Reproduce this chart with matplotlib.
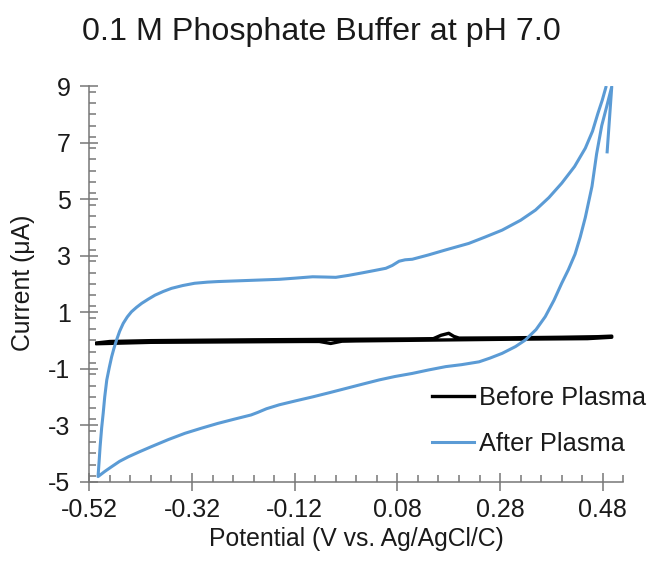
import matplotlib
matplotlib.use("Agg")
import matplotlib.pyplot as plt
from matplotlib.ticker import MultipleLocator

plt.rcParams['font.family'] = ['Liberation Sans', 'DejaVu Sans']
plt.rcParams['axes.unicode_minus'] = False

# After Plasma: one full scan, starting near +0.49 V, down the cathodic branch, back up the anodic one
after_v = [0.4885, 0.4975, 0.488, 0.478, 0.468, 0.459, 0.446, 0.436, 0.426, 0.413,
           0.400, 0.385, 0.368, 0.350, 0.329, 0.310, 0.284, 0.260, 0.239, 0.205,
           0.174, 0.140, 0.109, 0.075, 0.0445, 0.012, -0.020, -0.052, -0.085, -0.118,
           -0.150, -0.175, -0.192, -0.205, -0.238, -0.270, -0.302, -0.334, -0.366, -0.399,
           -0.422, -0.444, -0.461, -0.4765, -0.490, -0.503,
           -0.501, -0.499, -0.496, -0.493, -0.490, -0.486, -0.481, -0.4765, -0.472, -0.467,
           -0.461, -0.454, -0.446, -0.438, -0.428, -0.418, -0.405, -0.392, -0.376, -0.360,
           -0.338, -0.315, -0.290, -0.270, -0.210, -0.150, -0.120, -0.085, -0.060, -0.040,
           -0.015, 0.012, 0.035, 0.0575, 0.070, 0.0833, 0.095, 0.109, 0.140, 0.174,
           0.219, 0.250, 0.284, 0.320, 0.349, 0.375, 0.400, 0.425, 0.446, 0.460,
           0.4705, 0.479, 0.486]
after_i = [6.67, 8.98, 8.3, 7.6, 6.6, 5.45, 4.35, 3.65, 3.05, 2.5,
           2.02, 1.42, 0.84, 0.38, 0.01, -0.22, -0.46, -0.63, -0.76, -0.86,
           -0.93, -1.05, -1.17, -1.28, -1.40, -1.55, -1.70, -1.85, -2.0, -2.14,
           -2.28, -2.42, -2.55, -2.64, -2.79, -2.94, -3.11, -3.29, -3.51, -3.76,
           -3.94, -4.12, -4.28, -4.47, -4.64, -4.82,
           -4.3, -3.76, -3.1, -2.58, -2.0, -1.40, -0.95, -0.58, -0.28, 0.01,
           0.32, 0.60, 0.83, 1.01, 1.17, 1.31, 1.46, 1.60, 1.73, 1.84,
           1.94, 2.02, 2.06, 2.08, 2.12, 2.16, 2.20, 2.25, 2.24, 2.23,
           2.30, 2.39, 2.47, 2.55, 2.65, 2.80, 2.85, 2.87, 3.02, 3.20,
           3.43, 3.65, 3.90, 4.25, 4.61, 5.05, 5.56, 6.15, 6.80, 7.40,
           8.03, 8.50, 8.95]

# Before Plasma: thin loop close to zero current
before_v = [-0.505, -0.48, -0.40, -0.20, 0.0, 0.10, 0.15, 0.165, 0.18, 0.19, 0.20, 0.30, 0.40, 0.47, 0.4975,
            0.4975, 0.45, 0.30, 0.20, 0.10, 0.0, -0.028, -0.05, -0.072, -0.10, -0.20, -0.40, -0.505]
before_i = [-0.09, -0.04, -0.01, 0.02, 0.04, 0.05, 0.06, 0.18, 0.25, 0.14, 0.08, 0.09, 0.11, 0.13, 0.15,
            0.11, 0.06, 0.04, 0.02, 0.0, -0.02, -0.03, -0.11, -0.04, -0.04, -0.05, -0.07, -0.12]

x_ticks = [-0.52, -0.32, -0.12, 0.08, 0.28, 0.48]
x_labels = ['-0.52', '-0.32', '-0.12', '0.08', '0.28', '0.48']
y_ticks = [-5, -3, -1, 1, 3, 5, 7, 9]

fig = plt.figure(figsize=(6.52, 5.64), dpi=100)
ax = fig.add_axes([0.137, 0.146, 0.819, 0.7015])

ax.plot(before_v, before_i, color='black', linewidth=2.4, label='Before Plasma',
        solid_joinstyle='round')
ax.plot(after_v, after_i, color='#5B9BD5', linewidth=2.2, label='After Plasma',
        solid_joinstyle='round')

ax.set_xlim(-0.52, 0.52)
ax.set_ylim(-5, 9)
ax.set_xticks(x_ticks)
ax.set_xticklabels(x_labels)
ax.set_yticks(y_ticks)
ax.xaxis.set_minor_locator(MultipleLocator(0.04))
ax.yaxis.set_minor_locator(MultipleLocator(0.4))

axis_gray = '#767676'
for side in ['top', 'right']:
    ax.spines[side].set_visible(False)
for side in ['left', 'bottom']:
    ax.spines[side].set_color(axis_gray)
    ax.spines[side].set_linewidth(1.1)

ax.tick_params(which='major', direction='inout', length=13, width=1.1, color=axis_gray,
               labelsize=18, labelcolor='#1a1a1a')
ax.tick_params(axis='x', which='major', pad=5)
ax.tick_params(axis='y', which='major', pad=7)
ax.tick_params(which='minor', direction='in', length=5, width=1.1, color=axis_gray)

ax.set_xlabel('Potential (V vs. Ag/AgCl/C)', fontsize=17.8, color='#1a1a1a', labelpad=4)
fig.text(23 / 652, 1 - 283 / 564, 'Current (μA)', rotation=90, fontsize=17.8,
         color='#1a1a1a', ha='center', va='center')
fig.text(0.493, 1 - 32 / 564, '0.1 M Phosphate Buffer at pH 7.0', fontsize=23.2,
         color='#1a1a1a', ha='center', va='center')

leg = ax.legend(loc='upper left', bbox_to_anchor=(432 / 652, 1 - 386 / 564),
                bbox_transform=fig.transFigure, frameon=False, fontsize=18.3,
                handlelength=1.65, handletextpad=0.2, labelspacing=0.85,
                borderpad=0, borderaxespad=0)
for t in leg.get_texts():
    t.set_color('#1a1a1a')

fig.savefig('out.png', dpi=100)
